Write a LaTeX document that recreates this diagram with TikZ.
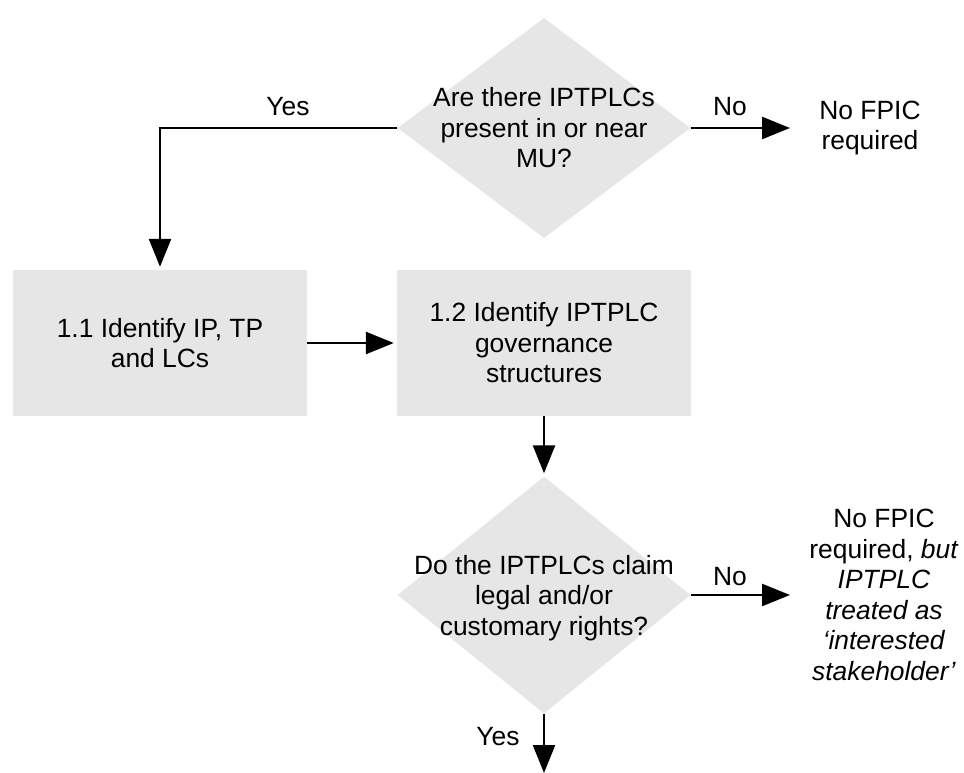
\documentclass[tikz,border=0pt]{standalone}
\usepackage{fontspec}
\setmainfont{Liberation Sans}
\usetikzlibrary{shapes.geometric,arrows.meta}
\definecolor{boxgray}{HTML}{E6E6E6}
\begin{document}
\begin{tikzpicture}[x=1pt,y=-1pt,
  every node/.style={font=\fontsize{26.4}{30.5}\selectfont, inner sep=0pt},
  stepbox/.style={rectangle, fill=boxgray, minimum width=294pt, minimum height=146pt},
  decision/.style={diamond, fill=boxgray},
  txt/.style={align=center},
  flow/.style={line width=2.5pt, -{Triangle[length=28pt,width=22pt]}, shorten >=3pt},
  link/.style={line width=2.5pt}]
\useasboundingbox (0,0) rectangle (964,773);

% decisions
\node[decision, minimum width=293pt, minimum height=220pt] (q1) at (544,128) {};
\node[txt] (q1t) at (544,128) {Are there IPTPLCs\\present in or near\\MU?};
\node[decision, minimum width=293pt, minimum height=237pt] (q2) at (544,595) {};
\node[txt] (q2t) at (544,598) {Do the IPTPLCs claim\\legal and/or\\customary rights?};

% process steps
\node[stepbox, txt] (b11) at (160,343) {1.1 Identify IP, TP\\and LCs};
\node[stepbox, txt] (b12) at (544,343) {1.2 Identify IPTPLC\\governance\\structures};

% outcomes
\node[txt] (out1) at (870,128) {No FPIC\\required};
\node[txt] (out2) at (884,595) {No FPIC\\required, \textit{but}\\\textit{IPTPLC}\\\textit{treated as}\\\textit{‘interested}\\\textit{stakeholder’}};

% free ends of connectors
\coordinate (no1end) at (793,128);
\coordinate (no2end) at (793,595);
\coordinate (yesend) at (544,776);

% connectors
\draw[flow] (q1.west) -| (b11.north);
\draw[flow] (q1.east) -- (no1end);
\draw[flow] (b11.east) -- (b12.west);
\draw[flow] (b12.south) -- (q2.north);
\draw[flow] (q2.east) -- (no2end);
\draw[flow] (q2.south) -- (yesend);

% connector labels
\node (l1) at (288,107) {Yes};
\node (l2) at (730,107) {No};
\node (l3) at (730,577) {No};
\node (l4) at (498,737) {Yes};
\end{tikzpicture}
\end{document}
